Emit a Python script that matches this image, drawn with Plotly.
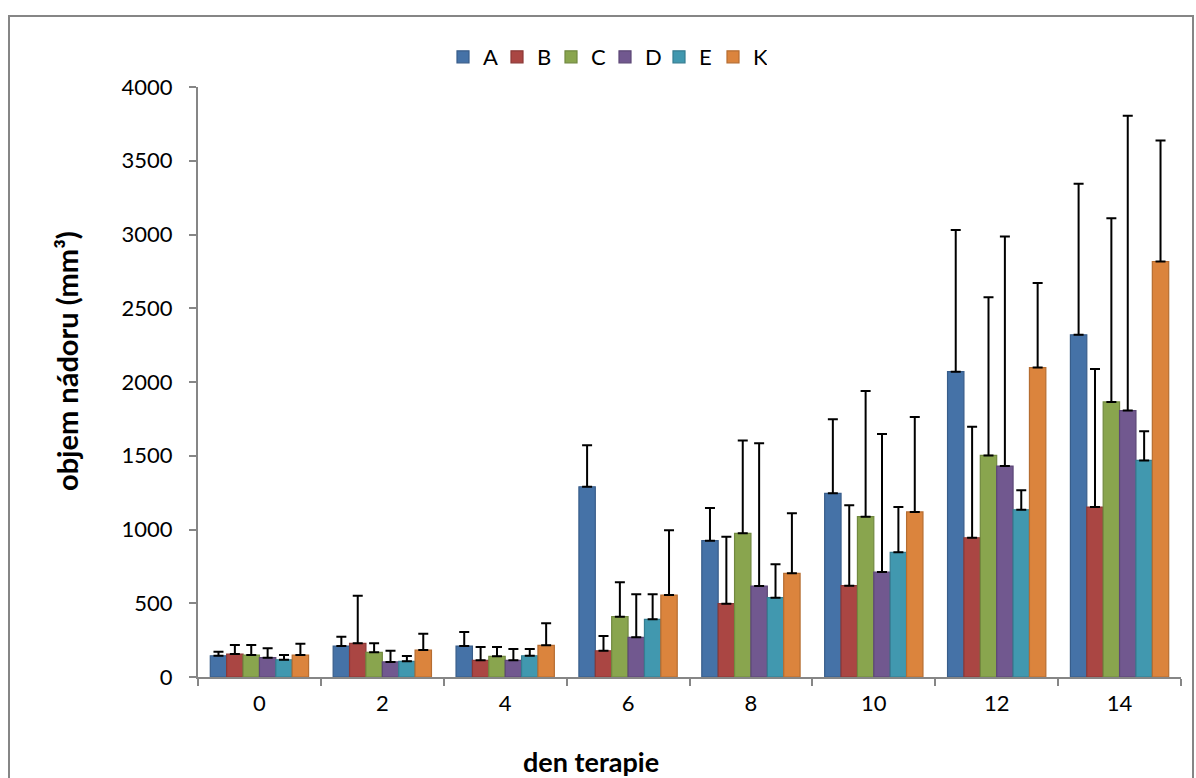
import plotly.graph_objects as go

days = ["0", "2", "4", "6", "8", "10", "12", "14"]
series_names = ["A", "B", "C", "D", "E", "K"]

A = [144, 210, 210, 1290, 924, 1245, 2070, 2320]
B = [156, 228, 113, 178, 497, 619, 944, 1152]
C = [149, 167, 140, 409, 974, 1087, 1502, 1865]
D = [131, 102, 113, 269, 617, 712, 1430, 1806]
E = [117, 106, 144, 391, 538, 845, 1134, 1468]
K = [149, 183, 215, 556, 703, 1119, 2098, 2817]

A_top = [171, 273, 305, 1571, 1146, 1747, 3030, 3344]
B_top = [217, 551, 203, 278, 951, 1164, 1696, 2088]
C_top = [217, 228, 203, 642, 1603, 1939, 2574, 3111]
D_top = [195, 178, 190, 561, 1585, 1647, 2986, 3805]
E_top = [149, 142, 190, 561, 764, 1153, 1266, 1666]
K_top = [226, 294, 364, 995, 1110, 1763, 2671, 3638]

values = [A, B, C, D, E, K]
tops = [A_top, B_top, C_top, D_top, E_top, K_top]
fills = ["#4572A7", "#AA4643", "#89A54E", "#71588F", "#4198AF", "#DB843D"]
edges = ["#385D8A", "#8C3836", "#71893F", "#5C4776", "#357D91", "#B66D31"]

FONT = "Lato, Open Sans, sans-serif"

fig = go.Figure()
for name, v, t, fc, ec in zip(series_names, values, tops, fills, edges):
    fig.add_trace(go.Bar(
        name=name, x=days, y=v,
        marker=dict(color=fc, line=dict(color=ec, width=1.2)),
        error_y=dict(type="data", symmetric=False,
                     array=[tt - vv for tt, vv in zip(t, v)],
                     arrayminus=[0] * len(v),
                     color="black", thickness=2, width=5),
    ))

L, R, T, B_ = 198, 1181, 87, 677
W, H = 1196, 778
pw, ph = R - L, B_ - T

def px_x(x):
    return (x - L) / pw

def px_y(y):
    return (B_ - y) / ph

fig.update_layout(
    width=W, height=H,
    margin=dict(l=L, r=W - R, t=T, b=H - B_),
    paper_bgcolor="white", plot_bgcolor="white",
    barmode="group", bargap=0.2, bargroupgap=0,
    font=dict(family=FONT, size=22, color="black"),
    showlegend=True,
    legend=dict(orientation="h", x=px_x(605), xanchor="center",
                y=px_y(57), yanchor="middle",
                font=dict(family=FONT, size=22, color="black"),
                itemwidth=30, entrywidth=9, tracegroupgap=0),
    xaxis=dict(type="category", showline=True, linecolor="#868686", linewidth=2,
               ticks="outside", tickson="boundaries", ticklen=7, tickcolor="#868686",
               tickwidth=2, showgrid=False, zeroline=False, ticklabelstandoff=6,
               tickfont=dict(family=FONT, size=22, color="black")),
    yaxis=dict(range=[0, 4000], dtick=500, showline=True, linecolor="#868686",
               linewidth=2, ticks="outside", ticklen=7, tickcolor="#868686",
               tickwidth=2, showgrid=False, zeroline=False, ticklabelstandoff=12,
               tickfont=dict(family=FONT, size=22, color="black")),
    annotations=[
        dict(text="<b>den terapie</b>", xref="paper", yref="paper",
             x=px_x(591), y=px_y(743), xanchor="center", yanchor="top",
             showarrow=False, font=dict(family=FONT, size=27, color="black")),
        dict(text="<b>objem nádoru (mm³)</b>", xref="paper", yref="paper",
             x=px_x(66), y=px_y(361), xanchor="center", yanchor="middle", textangle=-90,
             showarrow=False, font=dict(family=FONT, size=29, color="black")),
    ],
    shapes=[
        dict(type="rect", xref="paper", yref="paper",
             x0=px_x(9), x1=px_x(1193), y0=px_y(800), y1=px_y(16),
             line=dict(color="#868686", width=2), fillcolor="rgba(0,0,0,0)", layer="below"),
    ],
)

fig.write_html("out.html")
